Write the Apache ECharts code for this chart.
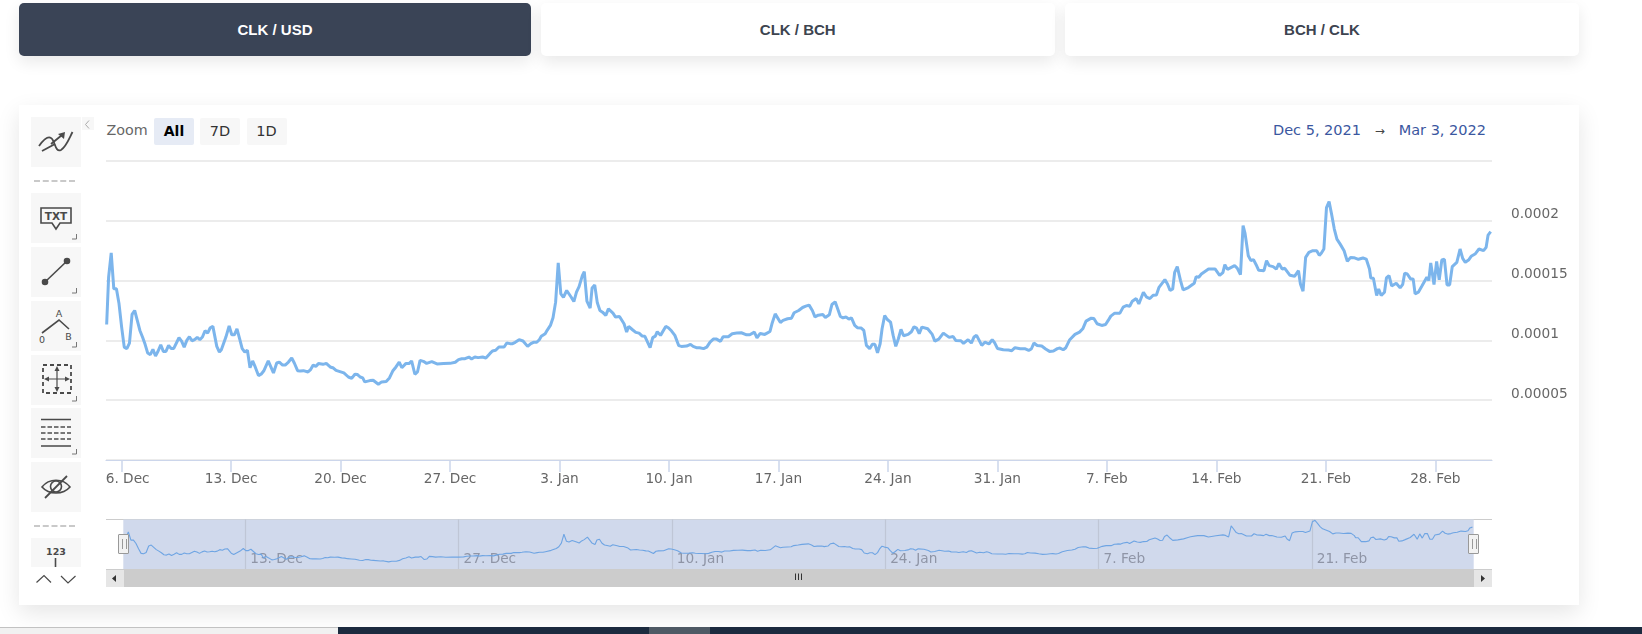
<!DOCTYPE html>
<html><head><meta charset="utf-8">
<script src="https://cdn.jsdelivr.net/npm/echarts@6/dist/echarts.min.js"></script>
<style>
html,body{margin:0;padding:0;background:#fff;width:1642px;height:634px;overflow:hidden}
.a{position:absolute;box-sizing:border-box}
.tab{top:3px;height:52.5px;border-radius:5px;background:#fff;box-shadow:0 6px 16px rgba(0,0,0,.09);font:bold 15px "Liberation Sans",Arial,sans-serif;color:#3d4450;display:flex;align-items:center;justify-content:center}
.tab.on{background:#3a4456;color:#fff}
.tool{left:31px;width:50px;height:50px;background:#f7f7f7}
.tool svg{position:absolute;left:0;top:0}
.dash{left:34px;width:41px;border-top:2px dashed #c9c9c9;height:0}
.zb{top:117.5px;width:40px;height:27px;border-radius:2px;background:#f7f7f7;font:14.5px "DejaVu Sans",sans-serif;color:#333;display:flex;align-items:center;justify-content:center}
.zb.on{background:#e6ebf5;color:#000;font-weight:bold;font-size:14px}
#chart{position:absolute;left:0;top:0;width:1642px;height:634px;z-index:2}
.top{z-index:3}
.h{top:534px;width:11px;height:20px;background:#f2f2f2;border:1px solid #999;border-radius:1px}
.h:before{content:"";position:absolute;left:3px;top:4px;height:10px;width:3px;border-left:1px solid #999;border-right:1px solid #999}
</style></head><body>
<div class="a tab on" style="left:19px;width:512px">CLK / USD</div>
<div class="a tab" style="left:541px;width:513.5px">CLK / BCH</div>
<div class="a tab" style="left:1065px;width:514px">BCH / CLK</div>
<div class="a" style="left:19px;top:105px;width:1560px;height:500px;background:#fff;box-shadow:0 8px 22px rgba(0,0,0,.10)"></div>

<div class="a" style="left:81.5px;top:116.5px;width:12px;height:13px;background:#f7f7f7"><svg width="12" height="13"><path d="M7 2.5 L3.5 6.5 L7 10.5" fill="none" stroke="#aaa"/></svg></div>
<div class="a tool" style="top:117px"><svg width="50" height="50" fill="none" stroke="#4a4a4a" stroke-width="1.8"><path d="M8 29 C13 22 17 19 20 21 C24 23 24 36 30 33 C35 30 38 22 41.5 15"/><path d="M11 34 L24 27 M20 27 L31 18"/><path d="M27 17 L34 15 L33 22 Z" fill="#4a4a4a" stroke="none"/></svg></div>
<div class="a dash" style="top:179.5px"></div>
<div class="a tool" style="top:193px"><svg width="50" height="50" fill="none" stroke="#4a4a4a" stroke-width="1.6"><path d="M10 15 H40 V30 H29 L25 36 L21 30 H10 Z"/><text x="25" y="27" text-anchor="middle" font-family="DejaVu Sans" font-weight="bold" font-size="10.5" fill="#4a4a4a" stroke="none">TXT</text><path d="M41 46 H45.5 V41" stroke="#777" stroke-width="1"/></svg></div>
<div class="a tool" style="top:247px"><svg width="50" height="50" fill="none" stroke="#4a4a4a" stroke-width="1.6"><path d="M14 35 L36 14"/><circle cx="14" cy="35" r="2.5" fill="#4a4a4a"/><circle cx="36" cy="14" r="2.5" fill="#4a4a4a"/><path d="M41 46 H45.5 V41" stroke="#777" stroke-width="1"/></svg></div>
<div class="a tool" style="top:301px"><svg width="50" height="50" fill="none" stroke="#4a4a4a" stroke-width="1.6"><path d="M11 32 L28 19 L38 28"/><g font-family="DejaVu Sans" font-size="9.5" fill="#4a4a4a" stroke="none" text-anchor="middle"><text x="28" y="16">A</text><text x="11" y="42">0</text><text x="37.5" y="39">B</text></g><path d="M41 46 H45.5 V41" stroke="#777" stroke-width="1"/></svg></div>
<div class="a tool" style="top:355px"><svg width="50" height="50" fill="none" stroke="#4a4a4a" stroke-width="1.8"><rect x="12" y="10" width="28" height="28" stroke-dasharray="4 3"/><path d="M26 14 V34 M16 24 H36" stroke-width="1.2"/><path d="M26 11 L23.5 16 H28.5 Z M26 37 L23.5 32 H28.5 Z M13 24 L18 21.5 V26.5 Z M39 24 L34 21.5 V26.5 Z" fill="#4a4a4a" stroke="none"/><path d="M41 46 H45.5 V41" stroke="#777" stroke-width="1"/></svg></div>
<div class="a tool" style="top:408px"><svg width="50" height="50" fill="none" stroke="#4a4a4a"><path d="M10 11.5 H40 M10 38 H40" stroke-width="1.7"/><path d="M10 19 H40 M10 25 H40 M10 31 H40" stroke="#777" stroke-width="1.8" stroke-dasharray="4.5 2"/><path d="M41 46 H45.5 V41" stroke="#777" stroke-width="1"/></svg></div>
<div class="a tool" style="top:462px"><svg width="50" height="50" fill="none" stroke="#4a4a4a" stroke-width="1.6"><path d="M11 25 C18 16 32 16 39 25 C32 33 18 33 11 25 Z"/><circle cx="25" cy="24.5" r="5.5"/><path d="M14 36 L36 14" stroke-width="1.8"/></svg></div>
<div class="a dash" style="top:524.5px"></div>
<div class="a tool" style="top:538px;height:29px"><svg width="50" height="29"><text x="25" y="17" text-anchor="middle" font-family="DejaVu Sans" font-weight="bold" font-size="9.5" fill="#4a4a4a">123</text><path d="M24.5 20 V29" stroke="#4a4a4a" stroke-width="1.6"/></svg></div>
<svg class="a" style="left:30px;top:570px" width="50" height="18" fill="none" stroke="#4a4a4a" stroke-width="1.2"><path d="M6.5 12.5 L14 5.5 L21 12.5 M31 6 L38 13 L45.5 6"/></svg>

<div class="a" style="left:106.5px;top:122px;font:14.3px 'DejaVu Sans',sans-serif;color:#666">Zoom</div>
<div class="a zb on" style="left:154px">All</div>
<div class="a zb" style="left:200px">7D</div>
<div class="a zb" style="left:246.5px">1D</div>
<div class="a" style="left:1273px;top:122px;width:213px;font:14.5px 'DejaVu Sans',sans-serif;color:#3b57a0;display:flex;justify-content:space-between"><span>Dec 5, 2021</span><span style="color:#444;font-size:12px;line-height:18px">&#8594;</span><span>Mar 3, 2022</span></div>

<div class="a" style="left:106px;top:518.5px;width:1386px;height:1.5px;background:#ccc"></div>
<div class="a" style="left:106px;top:569px;width:1386px;height:18px;background:#ccc"></div>
<div class="a" style="left:106px;top:569.5px;width:17.5px;height:17px;background:#e6e6e6"><svg width="17" height="17"><path d="M10 5 L6 8.5 L10 12 Z" fill="#333"/></svg></div>
<div class="a" style="left:1474px;top:569.5px;width:18px;height:17px;background:#e6e6e6"><svg width="18" height="17"><path d="M7 5 L11 8.5 L7 12 Z" fill="#333"/></svg></div>
<svg class="a" style="left:793px;top:572px" width="12" height="10"><path d="M2.5 1.5V8 M5.5 1.5V8 M8.5 1.5V8" stroke="#333"/></svg>

<div class="a" style="left:0;top:627px;width:338px;height:7px;background:#f1f1f1;border-top:1px solid #c2c2c2"></div>
<div class="a" style="left:338px;top:627px;width:1304px;height:7px;background:#1c2b3f"></div>
<div class="a" style="left:649px;top:627px;width:61px;height:7px;background:#4f5a65"></div>

<div id="chart"></div>
<div class="a h top" style="left:118px"></div>
<div class="a h top" style="left:1468px"></div>

<script>
// Start of the series and scale of the stored values
const startDate = '2021-12-05';
const valueUnit = 1e-5;
// [hours since start, CLK/USD price in units of 1e-5]
const pricePoints = [
[1,11.33],[4,15.28],[8,17.31],[12,14.31],[16,14.31],[20,13.06],[24,11.11],[28,9.44],[32,9.31],[36,9.78],[40,12.17],[44,12.5],[48,11.67],[52,10.83],[56,10.28],[60,9.67],[64,8.94],[68,8.81],[72,9.25],[76,8.69],[80,9.11],[84,9.64],[88,9.08],[92,9.08],[96,9.58],[100,9.33],[104,9.33],[112,10.22],[116,9.94],[120,9.44],[124,10],[128,10.31],[132,9.97],[136,10.06],[140,10.25],[144,10.06],[148,10.28],[152,10.81],[156,10.61],[160,11.06],[164,11.17],[170,9.5],[174,9.03],[177,9.22],[184,10.28],[189,11.22],[193,10.47],[197,10.47],[201,10.97],[205,10.14],[209,9.31],[213,9.03],[217,9.17],[221,7.72],[225,8.28],[229,7.78],[234,7.06],[238,7.17],[242,7.44],[249,8.28],[253,7.78],[257,7.28],[262,8.11],[266,8.19],[271,7.94],[275,7.94],[280,8.19],[285,8.53],[289,8.11],[294,7.47],[298,7.44],[303,7.47],[310,7.36],[314,7.56],[318,7.94],[322,7.83],[326,8.06],[333,8],[338,8.08],[344,7.78],[349,7.69],[353,7.5],[359,7.39],[365,7.28],[372,6.94],
[377,6.83],[382,7.17],[386,7.14],[390,6.94],[394,6.86],[397,6.53],[405,6.64],[410,6.67],[418,6.33],[423,6.53],[430,6.56],[435,6.86],[440,7.44],[445,7.78],[450,8.19],[454,7.72],[460,8.06],[465,8.06],[469,8.28],[474,7.17],[478,7.36],[482,8.33],[487,8.25],[492,8.08],[500,8.22],[508,8.03],[518,8.06],[528,8.08],[536,8.17],
[541,8.39],[546,8.47],[551,8.47],[557,8.61],[561,8.45],[566,8.61],[571,8.56],[578,8.61],[583,8.53],[589,8.89],[593,9.11],[598,9.17],[603,9.45],[606,9.59],[611,9.45],[615,9.78],[620,9.73],[624,9.73],[628,9.84],[630,9.78],[634,10.06],[640,9.95],[643,9.86],[647,9.5],[652,9.73],[656,9.84],[661,9.84],[665,10.06],[668,10.34],[674,10.56],[677,10.84],[682,11.25],[686,11.89],[690,13.2],[694,16.48],[698,13.89],[702,13.61],[707,14.17],[710,14.28],[714,13.61],[718,13.25],[722,14.03],[726,14.5],[731,15.42],[734,15.75],[738,13.28],[743,12.7],[746,14.39],[750,14.64],[754,13.14],[758,12.5],[762,12.36],[767,12.09],[771,12.64],[774,12.64],[778,12.28],[782,11.95],[788,12],[791,12],[795,11.39],[799,10.7],[802,11.17],[808,10.89],[813,10.67],[818,10.61],[823,10.36],[827,10.34],[835,9.39],[839,10.23],[843,10.36],[846,10.73],[851,10.42],[859,11.17],[863,11.06],[868,10.78],[873,10.42],[879,9.56],[883,9.5],[891,9.53],[897,9.67],[901,9.5],[906,9.39],[911,9.39],
[917,9.31],[922,9.44],[927,9.86],[932,10.11],[937,10.11],[943,9.92],[947,10.31],[955,10.31],[961,10.56],[968,10.61],[975,10.64],[983,10.47],[988,10.47],[995,10.69],[999,10.22],[1004,10.58],[1011,10.5],[1019,10.75],[1022,11.39],[1027,12.22],[1035,11.5],[1039,11.67],[1046,11.81],[1052,11.86],[1056,12.31],[1063,12.5],[1069,12.75],[1074,12.86],[1079,12.95],[1084,12.5],[1088,11.97],[1093,12.11],[1100,12.17],[1104,11.92],[1110,12.14],[1114,13],[1119,13.22],[1122,12.78],[1127,12],[1131,11.89],[1136,11.95],[1140,11.78],[1144,11.89],[1149,11.25],[1153,11.06],[1159,11.03],[1163,10.83],[1167,9.58],[1172,9.31],[1176,9.67],[1180,9.67],[1184,8.97],[1188,9.72],[1191,10.97],[1195,12.08],[1199,11.75],[1204,11.53],[1208,10.42],[1212,9.5],[1216,10.14],[1220,10.92],[1224,10.39],[1231,10.5],[1236,10.72],[1240,11.14],[1244,11.03],[1248,10.56],[1252,11.11],[1255,11.17],[1261,10.97],[1264,10.97],[1268,10.5],[1272,9.94],[1278,10.11],[1285,10.61],[1288,10.61],[1294,10.25],[1296,10.14],[1300,10.33],[1304,10],[1312,9.97],[1316,9.75],[1323,10.06],[1328,9.78],[1332,10.28],[1336,10.42],[1344,9.58],[1349,9.86],[1355,9.7],[1360,10.06],[1364,9.78],[1368,9.33],[1377,9.22],[1385,9.19],[1390,9.14],[1395,9.39],[1403,9.31],[1410,9.31],[1416,9.17],[1420,9.28],[1424,9.78],[1429,9.58],[1436,9.53],[1442,9.28],
[1448,9.08],[1454,9.11],[1460,9.31],[1464,9.36],[1469,9.22],[1473,9.39],[1479,10.06],[1487,10.5],[1494,10.69],[1499,10.97],[1504,11.61],[1507,11.61],[1512,11.86],[1516,11.83],[1521,11.39],[1528,11.25],[1534,11.33],[1538,11.67],[1542,12.03],[1548,12.28],[1556,12.28],
[1561,12.78],[1566,12.92],[1571,12.86],[1575,13.28],[1581,13.5],[1585,13.05],[1592,14.03],[1597,13.61],[1602,13.5],[1607,13.78],[1612,13.8],[1616,14.44],[1625,15.08],[1629,14.72],[1633,14.17],[1637,14.3],[1640,15.69],[1644,16.17],[1649,15],[1653,14.22],[1661,14.42],[1670,14.78],[1673,15.33],[1677,15.28],[1681,15.55],[1692,15.97],[1702,15.97],[1705,15.83],[1709,15.44],[1714,15.67],[1717,16.33],[1721,15.94],[1732,16.25],[1736,16.05],[1741,15.5],[1745,19.6],[1748,18.95],[1753,17.08],[1757,16.67],[1761,16.75],[1765,16.33],[1769,15.86],[1772,15.97],[1777,15.83],[1781,16.67],[1785,16.25],[1791,16.17],[1796,15.97],[1800,16.44],[1805,15.97],[1809,16.03],[1817,15.44],[1824,15.36],[1830,15.83],[1833,14.72],[1837,14.11],[1841,16.94],[1846,17.36],[1852,17.5],[1858,17.5],[1862,17.11],[1865,17.28],[1869,17.64],[1873,21.1],[1877,21.6],[1881,20.5],[1885,19.31],[1889,18.47],[1894,18.05],[1900,17.5],[1905,16.61],[1910,16.94],[1915,16.92],[1918,17.03],[1922,16.78],[1929,16.89],[1934,16.8],[1939,15.97],[1941,15.22],[1945,15.19],[1950,13.75],[1953,14.3],[1957,13.75],[1962,14.03],[1965,15.22],[1969,15.42],[1973,14.55],[1980,14.78],[1986,14.39],[1990,14.69],[1993,15.61],[1997,15.55],[2002,15.14],[2006,15.14],
[2009,13.89],[2014,14.03],[2019,14.5],[2022,14.44],[2027,15.28],[2030,15],[2033,16.47],[2038,14.67],[2042,16.61],[2046,15.06],[2050,16.72],[2054,16.78],[2058,14.64],[2062,14.64],[2066,16.17],[2073,16.53],[2078,17.64],[2082,16.86],[2086,16.53],[2091,16.72],[2095,17.03],[2101,17.22],[2107,17.64],[2110,17.64],[2114,17.5],[2118,17.78],[2121,18.81],[2125,19.1]
];
const mainTickDates = ['2021-12-06','2021-12-13','2021-12-20','2021-12-27','2022-01-03','2022-01-10','2022-01-17','2022-01-24','2022-01-31','2022-02-07','2022-02-14','2022-02-21','2022-02-28'];
const mainTickLabels = ['6. Dec','13. Dec','20. Dec','27. Dec','3. Jan','10. Jan','17. Jan','24. Jan','31. Jan','7. Feb','14. Feb','21. Feb','28. Feb'];
const navTickDates = ['2021-12-13','2021-12-27','2022-01-10','2022-01-24','2022-02-07','2022-02-21'];
const navTickLabels = ['13. Dec','27. Dec','10. Jan','24. Jan','7. Feb','21. Feb'];
const yTickLabels = ['', '0.00005', '0.0001', '0.00015', '0.0002', ''];

const HOUR = 3600000;
const t0 = Date.parse(startDate);
const axisMin = t0, axisMax = t0 + 2127 * HOUR;
const seriesData = pricePoints.map(p => [t0 + p[0] * HOUR, +(p[1] * valueUnit).toFixed(9)]);
const mainTicks = mainTickDates.map(d => Date.parse(d));
const navTicks = navTickDates.map(d => Date.parse(d));
const FONT = '"DejaVu Sans",sans-serif';

const chart = echarts.init(document.getElementById('chart'), null, {renderer:'canvas'});
chart.setOption({
  animation:false, backgroundColor:'transparent',
  grid:[
    {left:106,top:161,width:1386,height:299,containLabel:false},
    {left:123.3,top:519.5,width:1350.4,height:49.5,show:true,backgroundColor:'#d0d9ec',borderWidth:0}
  ],
  xAxis:[
    {type:'value',gridIndex:0,min:axisMin,max:axisMax,
     axisLine:{lineStyle:{color:'#ccd6eb',width:1.2}},
     axisTick:{show:true,length:12,customValues:mainTicks,lineStyle:{color:'#ccd6eb',width:1.5}},
     splitLine:{show:false},
     axisLabel:{customValues:mainTicks,margin:12,fontFamily:FONT,fontSize:13.7,color:'#666',hideOverlap:false,showMinLabel:true,showMaxLabel:true,
       rich:{first:{padding:[0,0,0,12],fontFamily:FONT,fontSize:13.7,color:'#666'}},
       formatter:v=>{const i=mainTicks.indexOf(v);return i===0?'{first|'+mainTickLabels[0]+'}':(i>0?mainTickLabels[i]:'');}}},
    {type:'value',gridIndex:1,min:axisMin,max:axisMax,
     axisLine:{show:false},axisTick:{show:false,customValues:navTicks},
     splitLine:{show:true,lineStyle:{color:'#bfc6d6',width:1.2}},
     axisLabel:{customValues:navTicks,inside:true,margin:3,align:'left',fontFamily:FONT,fontSize:13.7,color:'#8f95a6',padding:[0,0,0,5],hideOverlap:false,
       formatter:v=>{const i=navTicks.indexOf(v);return i>=0?navTickLabels[i]:'';}}}
  ],
  yAxis:[
    {type:'value',gridIndex:0,min:0,max:0.00025,interval:0.00005,position:'right',
     axisLine:{show:false},axisTick:{show:false},
     splitLine:{lineStyle:{color:'#e6e6e6',width:1.5}},
     axisLabel:{margin:19,fontFamily:FONT,fontSize:13.7,color:'#666',verticalAlign:'bottom',align:'left',lineHeight:12,
       formatter:(v,i)=>yTickLabels[i]}},
    {type:'value',gridIndex:1,min:0.000037,max:0.000219,show:false,splitLine:{show:false}}
  ],
  series:[
    {type:'line',xAxisIndex:0,yAxisIndex:0,data:seriesData,showSymbol:false,smooth:false,lineStyle:{color:'#7cb5ec',width:3},itemStyle:{color:'#7cb5ec'},z:3},
    {type:'line',xAxisIndex:1,yAxisIndex:1,data:seriesData,showSymbol:false,smooth:false,lineStyle:{color:'#6fa5e3',width:1.1},itemStyle:{color:'#6fa5e3'},z:3}
  ]
});
</script>
</body></html>
